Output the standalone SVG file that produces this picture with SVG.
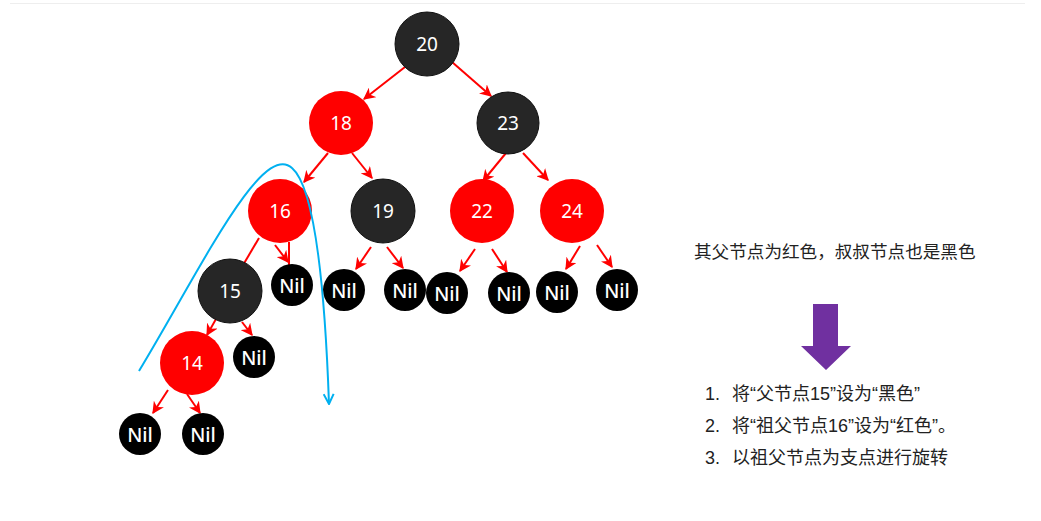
<svg xmlns="http://www.w3.org/2000/svg" width="1041" height="521" viewBox="0 0 1041 521">
  <style>
    .red { fill: #FF0000; }
    .blk { fill: #262626; stroke: #111; stroke-width: 1; }
    .nil { fill: #000000; }
    .lbl { font-family: "Noto Sans", "Open Sans", sans-serif; font-size: 19px; fill: #FFFFFF; text-anchor: middle; dominant-baseline: central; }
    .nl { font-size: 19.5px; font-weight: 500; }
    .edge { stroke: #FF0000; stroke-width: 2; fill: none; marker-end: url(#redArrow); }
    .note { font-family: "Liberation Sans", "Noto Sans CJK SC", sans-serif; font-size: 17.6px; fill: #222; }
    .item { font-size: 18px; }
  </style>
  <defs>
    <marker id="redArrow" viewBox="0 0 10 10" refX="9" refY="5" markerWidth="6" markerHeight="6" orient="auto" markerUnits="strokeWidth">
      <path d="M0,0 L10,5 L0,10 L3,5 Z" fill="#FF0000"/>
    </marker>
    <marker id="blueArrow" viewBox="0 0 12 12" refX="11" refY="6" markerWidth="6" markerHeight="6" orient="auto" markerUnits="strokeWidth">
      <path d="M1,1 L11,6 L1,11" fill="none" stroke="#00B0F0" stroke-width="2"/>
    </marker>
  </defs>

  <rect width="1041" height="521" fill="#FFFFFF"/>
  <line x1="10" y1="3.5" x2="1025" y2="3.5" stroke="#EEEEEE" stroke-width="1"/>

  <!-- tree connectors -->
  <g id="connectors">
    <line class="edge" x1="405" y1="67" x2="364" y2="99"/>
    <line class="edge" x1="452" y1="62" x2="491" y2="96"/>
    <line class="edge" x1="328" y1="153" x2="304" y2="182"/>
    <line class="edge" x1="352" y1="153" x2="372" y2="178"/>
    <line class="edge" x1="506" y1="153" x2="483" y2="181"/>
    <line class="edge" x1="523" y1="153" x2="548" y2="180"/>
    <line class="edge" x1="259" y1="238" x2="236" y2="277"/>
    <line class="edge" x1="275" y1="245" x2="288" y2="262"/>
    <line class="edge" x1="289" y1="242" x2="289" y2="283"/>
    <line class="edge" x1="216" y1="319" x2="207" y2="335"/>
    <line class="edge" x1="242" y1="322" x2="252" y2="335"/>
    <line class="edge" x1="168" y1="390" x2="153" y2="413"/>
    <line class="edge" x1="187" y1="394" x2="200" y2="413"/>
    <line class="edge" x1="371" y1="247" x2="356" y2="269"/>
    <line class="edge" x1="387" y1="247" x2="403" y2="268"/>
    <line class="edge" x1="475" y1="249" x2="460" y2="271"/>
    <line class="edge" x1="492" y1="249" x2="507" y2="272"/>
    <line class="edge" x1="580" y1="246" x2="566" y2="269"/>
    <line class="edge" x1="597" y1="245" x2="612" y2="267"/>
  </g>

  <!-- tree nodes -->
  <g id="n20"><circle class="blk" cx="427" cy="44" r="32"/><text class="lbl" x="427" y="44">20</text></g>
  <g id="n18"><circle class="red" cx="341" cy="123" r="32"/><text class="lbl" x="341" y="123">18</text></g>
  <g id="n23"><circle class="blk" cx="508" cy="123" r="31"/><text class="lbl" x="508" y="123">23</text></g>
  <g id="n16"><circle class="red" cx="280" cy="211" r="32"/><text class="lbl" x="280" y="211">16</text></g>
  <g id="n19"><circle class="blk" cx="383" cy="211" r="32"/><text class="lbl" x="383" y="211">19</text></g>
  <g id="n22"><circle class="red" cx="482" cy="211" r="32"/><text class="lbl" x="482" y="211">22</text></g>
  <g id="n24"><circle class="red" cx="572" cy="211" r="32"/><text class="lbl" x="572" y="211">24</text></g>
  <g id="n15"><circle class="blk" cx="230" cy="291" r="32"/><text class="lbl" x="230" y="291">15</text></g>
  <g id="n14"><circle class="red" cx="192" cy="363" r="32"/><text class="lbl" x="192" y="363">14</text></g>

  <g id="nil16"><circle class="nil" cx="292" cy="285" r="21"/><text class="lbl nl" x="292" y="285">Nil</text></g>
  <g id="nil15"><circle class="nil" cx="254" cy="357" r="21"/><text class="lbl nl" x="254" y="357">Nil</text></g>
  <g id="nil14a"><circle class="nil" cx="140" cy="434" r="21"/><text class="lbl nl" x="140" y="434">Nil</text></g>
  <g id="nil14b"><circle class="nil" cx="203" cy="434" r="21"/><text class="lbl nl" x="203" y="434">Nil</text></g>
  <g id="nil19a"><circle class="nil" cx="344" cy="290" r="21"/><text class="lbl nl" x="344" y="290">Nil</text></g>
  <g id="nil19b"><circle class="nil" cx="405" cy="290" r="21"/><text class="lbl nl" x="405" y="290">Nil</text></g>
  <g id="nil22a"><circle class="nil" cx="447" cy="293" r="21"/><text class="lbl nl" x="447" y="293">Nil</text></g>
  <g id="nil22b"><circle class="nil" cx="509" cy="293" r="21"/><text class="lbl nl" x="509" y="293">Nil</text></g>
  <g id="nil24a"><circle class="nil" cx="557" cy="292" r="21"/><text class="lbl nl" x="557" y="292">Nil</text></g>
  <g id="nil24b"><circle class="nil" cx="617" cy="290" r="21"/><text class="lbl nl" x="617" y="290">Nil</text></g>

  <!-- rotation hint curve -->
  <path id="rotation" d="M139,371 C200,270 262,140 292,168 C318,190 326,320 329,404" fill="none" stroke="#00B0F0" stroke-width="2" marker-end="url(#blueArrow)"/>

  <!-- explanation -->
  <g id="explain">
    <text class="note" x="694" y="258">其父节点为红色，叔叔节点也是黑色</text>
    <path d="M813,304 L838,304 L838,346 L851,346 L826,370 L801,346 L813,346 Z" fill="#7030A0"/>
    <text class="note item" x="705" y="400">1.</text>
    <text class="note item" x="732" y="400">将“父节点15”设为“黑色”</text>
    <text class="note item" x="705" y="432">2.</text>
    <text class="note item" x="732" y="432">将“祖父节点16”设为“红色”。</text>
    <text class="note item" x="705" y="464">3.</text>
    <text class="note item" x="732" y="464">以祖父节点为支点进行旋转</text>
  </g>
</svg>
